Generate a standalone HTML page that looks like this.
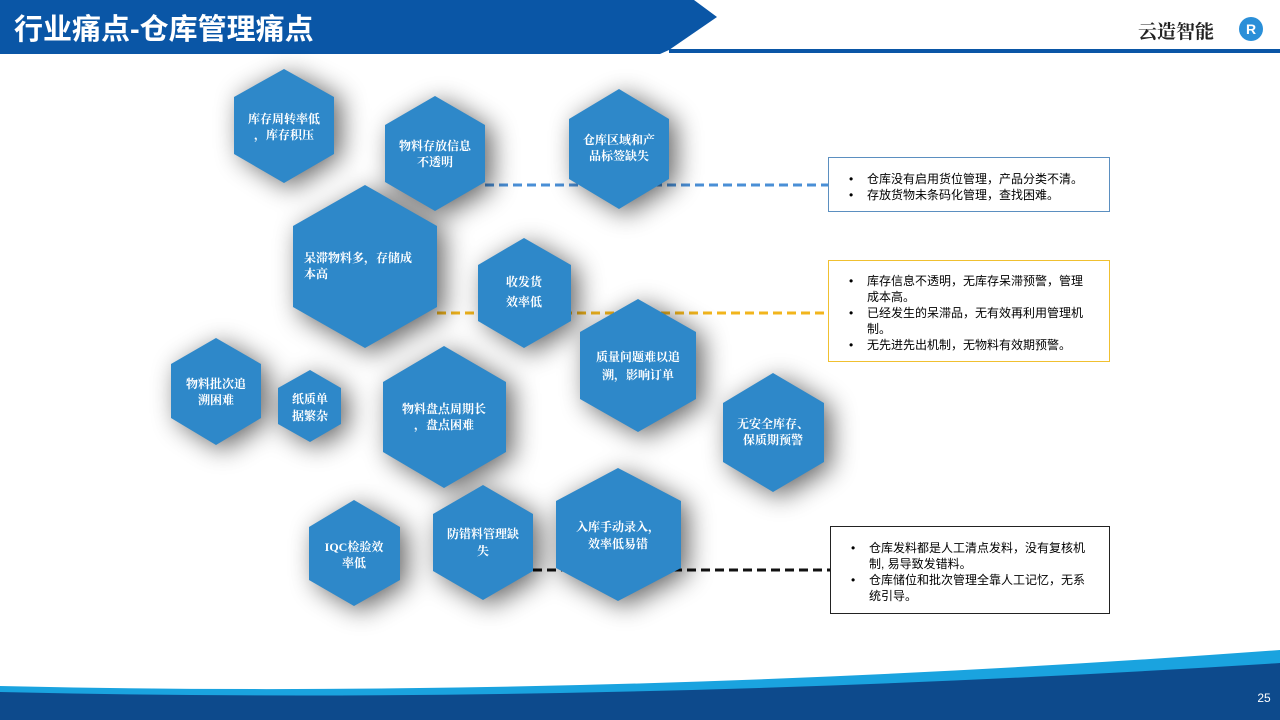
<!DOCTYPE html>
<html><head><meta charset="utf-8"><style>
html,body{margin:0;padding:0;width:1280px;height:720px;overflow:hidden;background:#fff;font-family:"Liberation Sans","Noto Sans CJK SC",sans-serif}
.box{position:absolute;background:#fff;font-size:12px;line-height:16px;color:#000;box-sizing:border-box}
.box ul{margin:0;padding:0 0 0 28px}
.box li{list-style:none;position:relative}
.box li:before{content:"•";position:absolute;left:-18px}
</style></head><body>
<svg width="1280" height="720" style="position:absolute;left:0;top:0" xmlns="http://www.w3.org/2000/svg">
<defs>
<filter id="sh" x="-50%" y="-50%" width="200%" height="200%"><feGaussianBlur stdDeviation="13"/></filter>
</defs>
<polygon points="0,0 694,0 717,17 669,50 660,54 0,54" fill="#0a56a6"/>
<rect x="669" y="49" width="611" height="4" fill="#0a56a6"/>
<text x="14" y="39" font-size="29" font-weight="bold" fill="#fff" font-family="Liberation Sans,Noto Sans CJK SC,sans-serif">行业痛点-仓库管理痛点</text>
<text x="1138" y="38" font-size="19" font-weight="bold" fill="#222" font-family="Noto Serif CJK SC,serif">云造智能</text>
<circle cx="1251" cy="29" r="12" fill="#2a8fd8"/>
<text x="1251" y="34" font-size="14" font-weight="bold" fill="#fff" text-anchor="middle">R</text>
<path d="M0,686 Q600,700 1280,650 L1280,720 L0,720 Z" fill="#1aa3df"/>
<path d="M0,692 Q600,706 1280,663 L1280,720 L0,720 Z" fill="#0d4a8c"/>
<text x="1264" y="702" font-size="12" fill="#fff" text-anchor="middle">25</text>
<line x1="485" y1="185" x2="828" y2="185" stroke="#4a8fd6" stroke-width="3" stroke-dasharray="9,5"/>
<line x1="437" y1="313" x2="828" y2="313" stroke="#f2b51c" stroke-width="3" stroke-dasharray="9,5"/>
<line x1="533" y1="570" x2="830" y2="570" stroke="#111" stroke-width="3" stroke-dasharray="9,5"/>
<g fill="#000" opacity="0.6" filter="url(#sh)">
<polygon points="291,74 341,99 341,156 291,188 241,156 241,99"/>
<polygon points="442,101 492,130 492,188 442,216 392,188 392,130"/>
<polygon points="626,94 676,123 676,182 626,214 576,182 576,123"/>
<polygon points="372,190 444,231 444,314 372,353 300,314 300,231"/>
<polygon points="531,243 578,270 578,324 531,353 485,324 485,270"/>
<polygon points="645,304 703,337 703,404 645,437 587,404 587,337"/>
<polygon points="223,343 268,369 268,421 223,450 178,421 178,369"/>
<polygon points="317,375 348,393 348,429 317,447 285,429 285,393"/>
<polygon points="451,351 513,386 513,457 451,493 390,457 390,386"/>
<polygon points="780,378 831,408 831,467 780,497 730,467 730,408"/>
<polygon points="361,505 407,531 407,584 361,611 316,584 316,531"/>
<polygon points="490,490 540,519 540,576 490,605 440,576 440,519"/>
<polygon points="625,473 688,506 688,573 625,606 563,573 563,506"/>
</g>
<g fill="#2e88c9">
<polygon points="284,69 334,97 334,154 284,183 234,154 234,97"/>
<polygon points="435,96 485,125 485,182 435,211 385,182 385,125"/>
<polygon points="619,89 669,119 669,179 619,209 569,179 569,119"/>
<polygon points="365,185 437,226 437,307 365,348 293,307 293,226"/>
<polygon points="524,238 571,265 571,321 524,348 478,321 478,265"/>
<polygon points="638,299 696,332 696,399 638,432 580,399 580,332"/>
<polygon points="216,338 261,364 261,418 216,445 171,418 171,364"/>
<polygon points="310,370 341,388 341,424 310,442 278,424 278,388"/>
<polygon points="444,346 506,382 506,452 444,488 383,452 383,382"/>
<polygon points="773,373 824,403 824,462 773,492 723,462 723,403"/>
<polygon points="354,500 400,527 400,580 354,606 309,580 309,527"/>
<polygon points="483,485 533,514 533,571 483,600 433,571 433,514"/>
<polygon points="618,468 681,501 681,568 618,601 556,568 556,501"/>
</g>
<g fill="#fff" font-size="12" font-weight="bold" text-anchor="middle" dominant-baseline="middle" font-family="Liberation Serif,Noto Serif CJK SC,serif">
<text x="284" y="120">库存周转率低</text><text x="284" y="136">，库存积压</text>
<text x="435" y="147">物料存放信息</text><text x="435" y="163">不透明</text>
<text x="619" y="141">仓库区域和产</text><text x="619" y="157">品标签缺失</text>
<text x="304" y="259" text-anchor="start">呆滞物料多，存储成</text><text x="304" y="275" text-anchor="start">本高</text>
<text x="524" y="283">收发货</text><text x="524" y="303">效率低</text>
<text x="638" y="358">质量问题难以追</text><text x="638" y="376">溯，影响订单</text>
<text x="216" y="385">物料批次追</text><text x="216" y="401">溯困难</text>
<text x="310" y="400">纸质单</text><text x="310" y="417">据繁杂</text>
<text x="444" y="410">物料盘点周期长</text><text x="444" y="426">，盘点困难</text>
<text x="773" y="425">无安全库存、</text><text x="773" y="441">保质期预警</text>
<text x="354" y="548">IQC检验效</text><text x="354" y="564">率低</text>
<text x="483" y="535">防错料管理缺</text><text x="483" y="552">失</text>
<text x="618" y="528">入库手动录入，</text><text x="618" y="545">效率低易错</text>
</g>
</svg>
<div class="box" style="left:828px;top:157px;width:282px;height:55px;border:1px solid #5b8fc0;padding:13px 14px 0 10px"><ul><li>仓库没有启用货位管理，产品分类不清。</li><li>存放货物未条码化管理，查找困难。</li></ul></div>
<div class="box" style="left:828px;top:260px;width:282px;height:102px;border:1px solid #f0c030;padding:12px 16px 0 10px"><ul><li>库存信息不透明，无库存呆滞预警，管理成本高。</li><li>已经发生的呆滞品，无有效再利用管理机制。</li><li>无先进先出机制，无物料有效期预警。</li></ul></div>
<div class="box" style="left:830px;top:526px;width:280px;height:88px;border:1px solid #222;padding:13px 16px 0 10px"><ul><li>仓库发料都是人工清点发料，没有复核机制, 易导致发错料。</li><li>仓库储位和批次管理全靠人工记忆，无系统引导。</li></ul></div>
</body></html>
